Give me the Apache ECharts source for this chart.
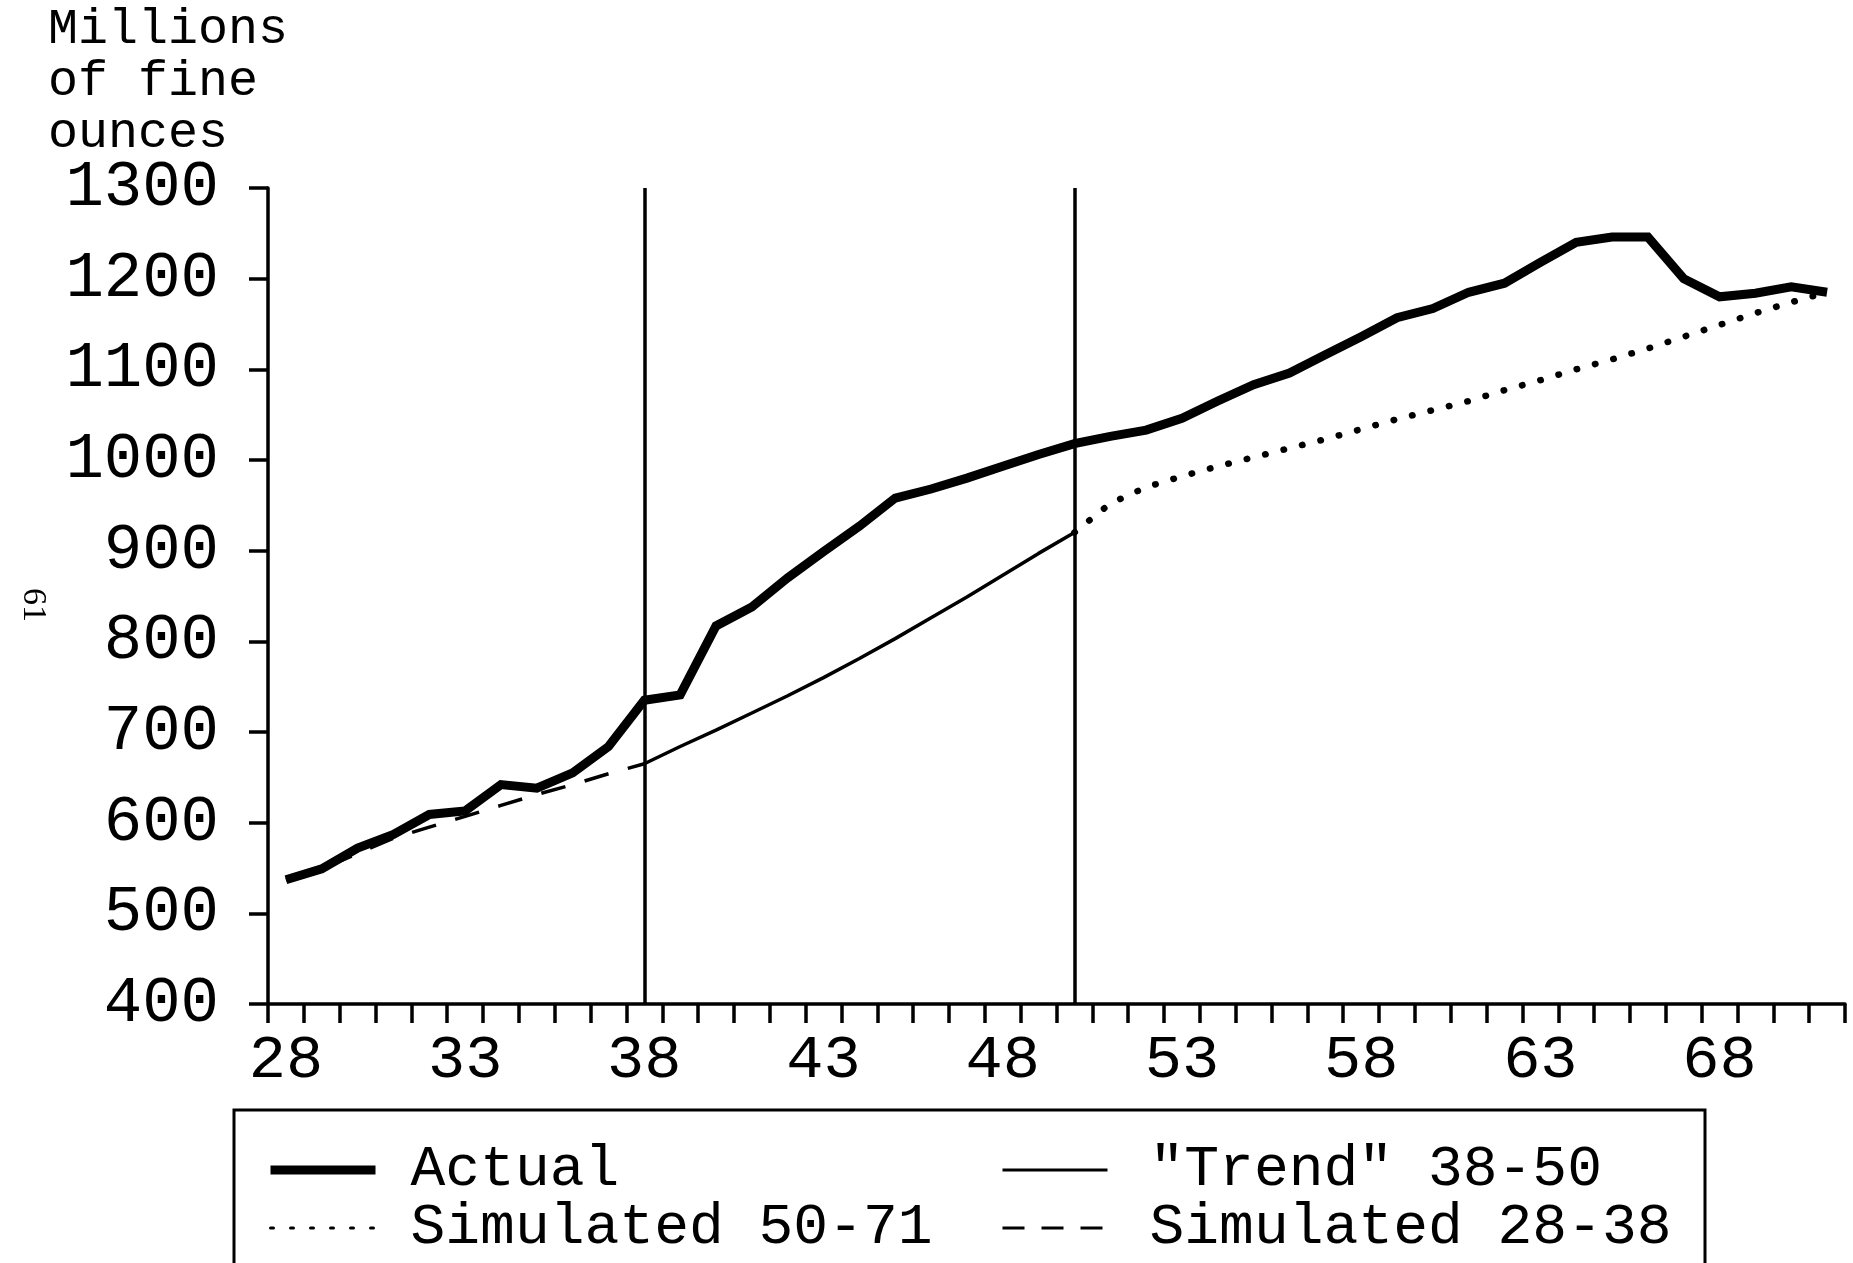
<!DOCTYPE html>
<html>
<head>
<meta charset="utf-8">
<script src="https://cdn.jsdelivr.net/npm/echarts@6/dist/echarts.min.js"></script>
<style>
html,body{margin:0;padding:0;background:#fff;}
#chart{width:1853px;height:1263px;}
</style>
</head>
<body>
<div id="chart"></div>
<script>
// ---- data ----
const years = ['28','29','30','31','32','33','34','35','36','37','38','39','40','41','42','43','44','45','46','47','48','49','50','51','52','53','54','55','56','57','58','59','60','61','62','63','64','65','66','67','68','69','70','71'];
const actual = [537,549,572,587,609,613,642,638,655,684,735,741,817,838,870,899,927,958,968,980,993,1006,1018,1026,1033,1046,1065,1083,1096,1116,1136,1157,1167,1185,1195,1218,1240,1246,1246,1200,1180,1184,1191,1185];
const trendStart = '38';
const trend3850 = [665,684,702,721,740,760,781,803,826,849,873,897,920];
const sim5071Start = '50';
const sim5071 = [920,952,970,982,993,1003,1013,1023,1034,1045,1055,1065,1077,1088,1100,1111,1123,1136,1149,1162,1174,1185];
const sim2838Start = '28';
const sim2838 = [537,549,566,583,595,607,619,631,642,654,665];
const yTicks = [400,500,600,700,800,900,1000,1100,1200,1300];
const markYears = ['38','50'];
const seriesNames = ['Actual','"Trend" 38-50','Simulated 50-71','Simulated 28-38'];

function place(startYear, vals){
  const out = years.map(() => null);
  const s = years.indexOf(startYear);
  vals.forEach((v,i) => { out[s+i] = v; });
  return out;
}

const FONT = 'Liberation Mono';
const chart = echarts.init(document.getElementById('chart'), null, {renderer:'canvas'});
chart.setOption({
  backgroundColor:'#ffffff',
  animation:false,
  title:{
    text:'Millions\nof fine\nounces',
    left:43, top:-1,
    textStyle:{fontFamily:FONT, fontSize:50, fontWeight:'normal', color:'#000', lineHeight:52}
  },
  grid:{left:268, right:8, top:188, bottom:259, containLabel:false, outerBoundsMode:'none'},
  xAxis:{
    type:'category',
    data:years,
    boundaryGap:true,
    axisLine:{show:true, onZero:false, lineStyle:{color:'#000', width:3.5}},
    axisTick:{show:true, interval:0, length:19, lineStyle:{color:'#000', width:3.5}},
    axisLabel:{interval:4, margin:26, fontFamily:FONT, fontSize:62, color:'#000'},
    splitLine:{show:false}
  },
  yAxis:{
    type:'value',
    min:yTicks[0], max:yTicks[yTicks.length-1], interval:100,
    axisLine:{show:true, lineStyle:{color:'#000', width:3.5}},
    axisTick:{show:true, length:19, lineStyle:{color:'#000', width:3.5}},
    axisLabel:{margin:49, fontFamily:FONT, fontSize:64, color:'#000', formatter:(v)=>String(v)},
    splitLine:{show:false}
  },
  legend:[
    {
      data:[
        {name:seriesNames[0], lineStyle:{width:9, type:'solid'}},
        {name:seriesNames[2], lineStyle:{width:3, type:[3,17]}}
      ],
      orient:'vertical', left:261, top:1136,
      itemWidth:105, itemHeight:14, itemGap:0,
      itemStyle:{opacity:0},
      textStyle:{fontFamily:FONT, fontSize:58, color:'#000', lineHeight:58, padding:[0,0,0,30]},
      selectedMode:false
    },
    {
      data:[
        {name:seriesNames[1], lineStyle:{width:3, type:'solid'}},
        {name:seriesNames[3], lineStyle:{width:3, type:[22,17]}}
      ],
      orient:'vertical', left:996, top:1136,
      itemWidth:105, itemHeight:14, itemGap:0,
      itemStyle:{opacity:0},
      textStyle:{fontFamily:FONT, fontSize:58, color:'#000', lineHeight:58, padding:[0,0,0,37]},
      selectedMode:false
    }
  ],
  graphic:[
    {type:'rect', shape:{x:234, y:1110, width:1471, height:220}, style:{fill:'none', stroke:'#000', lineWidth:3}, silent:true},
    {type:'text', x:50, y:588, rotation:-Math.PI/2, style:{text:'61', fontFamily:'Liberation Serif', fontSize:34, fill:'#000'}, silent:true}
  ],
  series:[
    {
      name:seriesNames[1], type:'line', data:place(trendStart, trend3850),
      symbol:'none', showSymbol:false, connectNulls:false,
      lineStyle:{color:'#000', width:3.5, type:'solid'},
      markLine:{
        silent:true, symbol:['none','none'], label:{show:false},
        lineStyle:{color:'#000', width:3.5, type:'solid'},
        emphasis:{disabled:true},
        data:[
          {xAxis:markYears[0]},
          {xAxis:markYears[1]}
        ]
      },
      z:3
    },
    {
      name:seriesNames[2], type:'line', data:place(sim5071Start, sim5071),
      symbol:'none', showSymbol:false,
      lineStyle:{color:'#000', width:6.5, type:[0.5,18.5], cap:'round'},
      z:3
    },
    {
      name:seriesNames[3], type:'line', data:place(sim2838Start, sim2838),
      symbol:'none', showSymbol:false,
      lineStyle:{color:'#000', width:3.5, type:[25,20]},
      z:3
    },
    {
      name:seriesNames[0], type:'line', data:actual,
      symbol:'none', showSymbol:false,
      lineStyle:{color:'#000', width:9, join:'miter'},
      z:4
    }
  ]
});
</script>
</body>
</html>
